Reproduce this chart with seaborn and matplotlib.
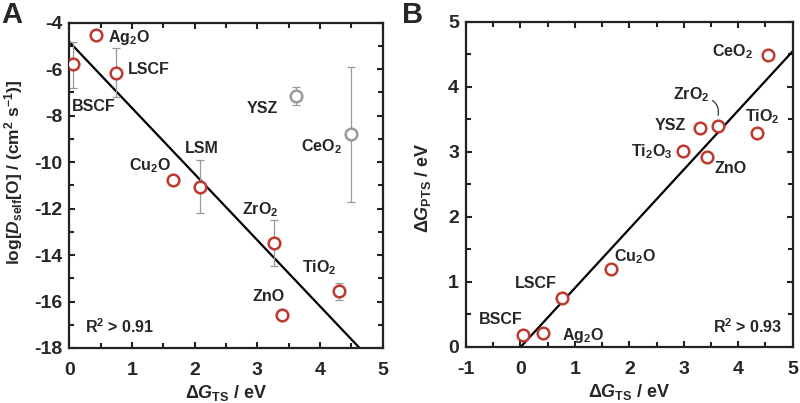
import numpy as np
import pandas as pd
import matplotlib
matplotlib.use("Agg")
import matplotlib.pyplot as plt
import matplotlib.ticker as ticker
import seaborn as sns

# Panel A: log self-diffusivity of O vs dG_TS
a_names = ["BSCF", "Ag$_2$O", "LSCF", "Cu$_2$O", "LSM", "ZrO$_2$", "ZnO", "TiO$_2$", "YSZ", "CeO$_2$"]
a_dg_ts = [0.06, 0.42, 0.74, 1.65, 2.09, 3.27, 3.40, 4.31, 3.61, 4.50]
a_logd = [-5.77, -4.55, -6.15, -10.76, -11.07, -13.48, -16.60, -15.56, -7.15, -8.80]
a_err_low = [-6.80, np.nan, -7.20, np.nan, -12.20, -14.49, np.nan, -15.92, -7.54, -11.70]
a_err_high = [-4.85, np.nan, -5.10, np.nan, -9.93, -12.48, np.nan, -15.20, -6.75, -5.92]
a_in_fit = [True, True, True, True, True, True, True, True, False, False]

# Panel B: dG_PTS vs dG_TS
b_names = ["BSCF", "Ag$_2$O", "LSCF", "Cu$_2$O", "Ti$_2$O$_3$", "ZnO", "YSZ", "ZrO$_2$", "TiO$_2$", "CeO$_2$"]
b_dg_ts = [0.04, 0.42, 0.76, 1.66, 2.99, 3.42, 3.30, 3.63, 4.35, 4.54]
b_dg_pts = [0.18, 0.21, 0.75, 1.19, 3.01, 2.92, 3.36, 3.39, 3.29, 4.49]

df_a = pd.DataFrame({"name": a_names, "x": a_dg_ts, "y": a_logd,
                     "lo": a_err_low, "hi": a_err_high, "fit": a_in_fit})
df_b = pd.DataFrame({"name": b_names, "x": b_dg_ts, "y": b_dg_pts})

RED = "#c0392f"
GREY = "#9a9a9a"

sns.set_style("ticks")
plt.rcParams["font.family"] = ["Liberation Sans", "DejaVu Sans"]
plt.rcParams["font.weight"] = "bold"
plt.rcParams["axes.labelweight"] = "bold"
plt.rcParams["axes.unicode_minus"] = False
plt.rcParams["mathtext.fontset"] = "custom"
plt.rcParams["mathtext.rm"] = "Liberation Sans:bold"
plt.rcParams["mathtext.bf"] = "Liberation Sans:bold"
plt.rcParams["mathtext.sf"] = "Liberation Sans"
plt.rcParams["mathtext.it"] = "Liberation Sans:italic:bold"
plt.rcParams["mathtext.default"] = "bf"

fig = plt.figure(figsize=(8, 4.03), dpi=100)
axA = fig.add_axes([0.0866, 0.1365, 0.3917, 0.8072])
axB = fig.add_axes([0.5825, 0.1397, 0.4084, 0.8065])


def style_axis(ax, xmaj, xmin, ymaj, ymin):
    ax.xaxis.set_major_locator(ticker.MultipleLocator(xmaj))
    ax.xaxis.set_minor_locator(ticker.MultipleLocator(xmin))
    ax.yaxis.set_major_locator(ticker.MultipleLocator(ymaj))
    ax.yaxis.set_minor_locator(ticker.MultipleLocator(ymin))
    ax.tick_params(which="both", direction="in", top=True, right=True,
                   width=1.5, color="#222222")
    ax.tick_params(which="major", length=4.5, labelsize=14)
    ax.tick_params(axis="x", which="major", pad=10)
    ax.tick_params(axis="y", which="major", pad=5)
    ax.tick_params(which="minor", length=3.5)
    for sp in ax.spines.values():
        sp.set_visible(True)
        sp.set_linewidth(1.6)
        sp.set_color("#222222")


xlabel = r"$\mathsf{\Delta}\mathit{G}_{\mathrm{TS}}$ / eV"

# ---- panel A
axA.set_xlim(0, 5)
axA.set_ylim(-18, -4)
fit_a = df_a[df_a["fit"]]
sns.regplot(data=fit_a, x="x", y="y", ax=axA, scatter=False, ci=None,
            truncate=False, color="black", line_kws={"lw": 1.6})
for _, r in df_a.dropna(subset=["lo"]).iterrows():
    axA.errorbar(r["x"], r["y"], yerr=[[r["y"] - r["lo"]], [r["hi"] - r["y"]]],
                 fmt="none", ecolor=GREY, elinewidth=0.9, capsize=3, capthick=0.9, zorder=2)
sns.scatterplot(data=fit_a, x="x", y="y", ax=axA, s=70, facecolor="white",
                edgecolor=RED, linewidth=1.8, zorder=3)
sns.scatterplot(data=df_a[~df_a["fit"]], x="x", y="y", ax=axA, s=70, facecolor="white",
                edgecolor=GREY, linewidth=1.8, zorder=3)

a_text_pos = {"Ag$_2$O": (0.62, -4.64), "LSCF": (0.94, -6.03), "BSCF": (0.04, -7.6),
              "YSZ": (2.83, -7.68), "CeO$_2$": (3.69, -9.33), "LSM": (1.85, -9.43),
              "Cu$_2$O": (0.96, -10.16), "ZrO$_2$": (2.75, -12.05),
              "TiO$_2$": (3.72, -14.55), "ZnO": (2.92, -15.77)}
for name, (tx, ty) in a_text_pos.items():
    axA.text(tx, ty, name, fontsize=11.5, ha="left", va="center")
axA.text(0.25, -17.09, "R$^2$ > 0.91", fontsize=11.5, ha="left", va="center")

axA.set_xlabel(xlabel, fontsize=13, labelpad=3)
axA.set_ylabel(r"log[$\mathit{D}_{\mathrm{self}}$[O] / (cm$^{2}$ s$^{-1}$)]", fontsize=12.5)
axA.yaxis.set_label_coords(-0.14, 0.541)
style_axis(axA, 1, 0.5, 2, 1)

# ---- panel B
axB.set_xlim(-1, 5)
axB.set_ylim(0, 5)
sns.regplot(data=df_b, x="x", y="y", ax=axB, scatter=False, ci=None,
            truncate=False, color="black", line_kws={"lw": 1.6})
sns.scatterplot(data=df_b, x="x", y="y", ax=axB, s=70, facecolor="white",
                edgecolor=RED, linewidth=1.8, zorder=3)

b_text_pos = {"CeO$_2$": (3.51, 4.54), "TiO$_2$": (4.12, 3.54), "YSZ": (2.46, 3.40),
              "Ti$_2$O$_3$": (2.03, 3.0), "ZnO": (3.57, 2.74), "Cu$_2$O": (1.72, 1.38),
              "LSCF": (-0.11, 0.975), "BSCF": (-0.76, 0.42), "Ag$_2$O": (0.76, 0.18)}
for name, (tx, ty) in b_text_pos.items():
    axB.text(tx, ty, name, fontsize=11.5, ha="left", va="center")
zr = df_b[df_b["name"] == "ZrO$_2$"].iloc[0]
axB.annotate("ZrO$_2$", xy=(zr["x"], zr["y"] + 0.17), xytext=(2.80, 3.87),
             fontsize=11.5, ha="left", va="center",
             arrowprops=dict(arrowstyle="-", lw=0.9, color="#333333",
                             connectionstyle="arc3,rad=-0.4",
                             shrinkA=0, shrinkB=0, relpos=(1.0, 0.3)))
axB.text(3.54, 0.31, "R$^2$ > 0.93", fontsize=11.5, ha="left", va="center")

axB.set_xlabel(xlabel, fontsize=13, labelpad=3)
axB.set_ylabel(r"$\mathsf{\Delta}\mathit{G}_{\mathrm{PTS}}$ / eV", fontsize=13)
axB.yaxis.set_label_coords(-0.101, 0.49)
style_axis(axB, 1, 0.5, 1, 0.5)

fig.text(0.002, 0.997, "A", fontsize=21, ha="left", va="top")
fig.text(0.502, 0.997, "B", fontsize=21, ha="left", va="top")

fig.savefig("out.png", dpi=100)
